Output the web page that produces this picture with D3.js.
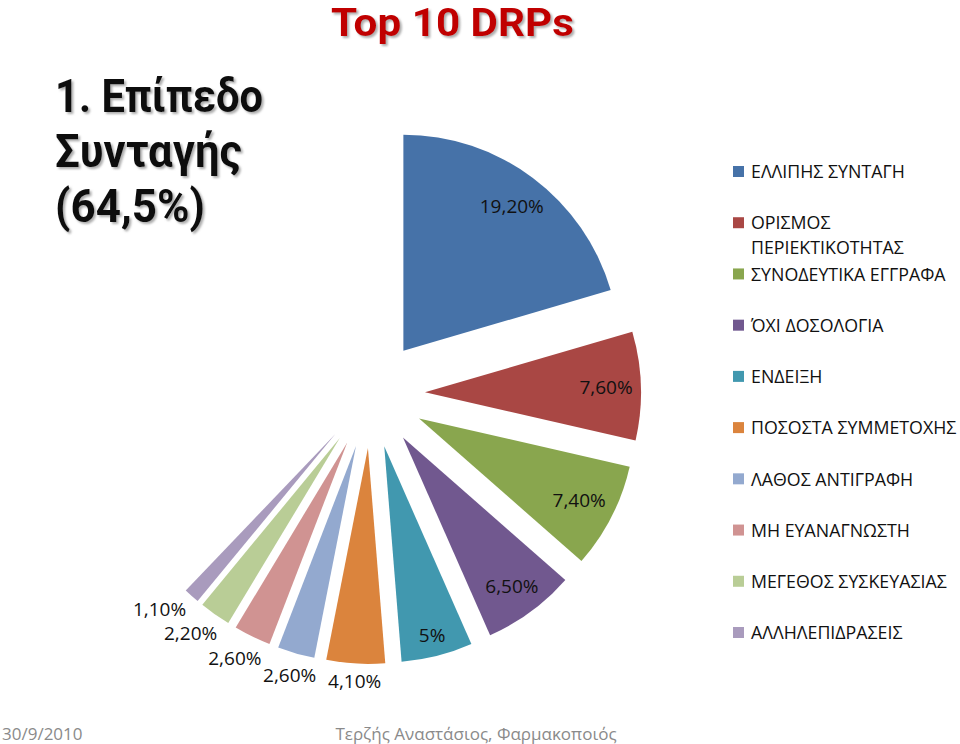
<!DOCTYPE html>
<html>
<head>
<meta charset="utf-8">
<script src="https://cdn.jsdelivr.net/npm/d3@7"></script>
<style>
  body { margin: 0; background: #fff; }
  text { font-family: "Open Sans", "Noto Sans", sans-serif; }
  text.head { font-family: Roboto, "Open Sans", sans-serif; font-weight: bold; }
</style>
</head>
<body>
<div id="chartDiv"></div>
<script>
const w = 960;
const h = 744;

// data
const categories = ["ΕΛΛΙΠΗΣ ΣΥΝΤΑΓΗ", "ΟΡΙΣΜΟΣ ΠΕΡΙΕΚΤΙΚΟΤΗΤΑΣ", "ΣΥΝΟΔΕΥΤΙΚΑ ΕΓΓΡΑΦΑ",
   "ΌΧΙ ΔΟΣΟΛΟΓΙΑ", "ΕΝΔΕΙΞΗ", "ΠΟΣΟΣΤΑ ΣΥΜΜΕΤΟΧΗΣ", "ΛΑΘΟΣ ΑΝΤΙΓΡΑΦΗ",
   "ΜΗ ΕΥΑΝΑΓΝΩΣΤΗ", "ΜΕΓΕΘΟΣ ΣΥΣΚΕΥΑΣΙΑΣ", "ΑΛΛΗΛΕΠΙΔΡΑΣΕΙΣ"];
const values = [19.2, 7.6, 7.4, 6.5, 5, 4.1, 2.6, 2.6, 2.2, 1.1];
const valueLabels = ["19,20%", "7,60%", "7,40%", "6,50%", "5%", "4,10%", "2,60%", "2,60%", "2,20%", "1,10%"];
// the part of the circle left empty (100% - 64,5%)
const hiddenRest = 35.5;
const colors = ["#4672a8", "#a94744", "#89a64e", "#71588f", "#4198af",
   "#db843d", "#93a9cf", "#d09392", "#b9cd96", "#a99bbd"];
const titleLines = ["1. Επίπεδο", "Συνταγής", "(64,5%)"];

const svg = d3.select("#chartDiv")
   .append("svg")
   .attr("width", w)
   .attr("height", h);

const defs = svg.append("defs");
defs.append("filter")
   .attr("id", "shadow")
   .attr("x", "-10%").attr("y", "-10%").attr("width", "120%").attr("height", "130%")
   .append("feDropShadow")
   .attr("dx", 2).attr("dy", 2).attr("stdDeviation", 1)
   .attr("flood-color", "#777").attr("flood-opacity", 0.6);

const cx = 371, cy = 394;
const r = 216;
const explode = 54;

const slices = values.map((v, i) => ({name: categories[i], v: v, label: valueLabels[i], color: colors[i]}));
const pie = d3.pie().sort(null).value(d => d.v);
const arcs = pie(slices.concat([{name: "rest", v: hiddenRest, hidden: true}]))
   .filter(d => !d.data.hidden);
const arc = d3.arc().innerRadius(0).outerRadius(r);

const mid = d => (d.startAngle + d.endAngle) / 2;
const apex = d => [cx + explode * Math.sin(mid(d)), cy - explode * Math.cos(mid(d))];

const pieG = svg.append("g");
pieG.selectAll("path")
   .data(arcs)
   .enter()
   .append("path")
   .attr("d", arc)
   .attr("fill", d => d.data.color)
   .attr("transform", d => `translate(${apex(d)[0]}, ${apex(d)[1]})`);

// data labels: inside end for the big ones, outside end for the rest
const labels = pieG.selectAll("text.lbl")
   .data(arcs)
   .enter()
   .append("text")
   .attr("class", "lbl")
   .attr("text-anchor", "middle")
   .attr("dy", "0.35em")
   .style("font-size", "19px")
   .attr("fill", "#111")
   .text(d => d.data.label);

const boxes = [];
labels.each(function(d) {
   const bw = this.getComputedTextLength();
   const bh = 20;
   let a = mid(d);
   const inside = d.data.v >= 5;
   const ext = ang => Math.abs(bw / 2 * Math.sin(ang)) + Math.abs(bh / 2 * Math.cos(ang));
   const p = apex(d);
   let x, y;
   const place = () => {
      const dist = inside ? r - ext(a) - 8 : r + ext(a) + 6;
      x = p[0] + dist * Math.sin(a);
      y = p[1] - dist * Math.cos(a);
   };
   place();
   if (!inside) {
      // nudge clockwise until it clears the previous label
      let guard = 0;
      const hit = () => boxes.some(b => Math.abs(b.x - x) < (b.w + bw) / 2 + 1 && Math.abs(b.y - y) < 24);
      while (hit() && guard < 80) { a += 0.005; place(); guard++; }
   }
   boxes.push({x: x, y: y, w: bw, h: bh});
   d3.select(this).attr("x", x).attr("y", y);
});

// legend
const legend = svg.append("g").attr("transform", "translate(733, 0)");
const legY = d3.scaleLinear().domain([0, 9]).range([172, 633]);
const item = legend.selectAll("g")
   .data(slices)
   .enter()
   .append("g")
   .attr("transform", (d, i) => `translate(0, ${legY(i)})`);
item.append("rect")
   .attr("x", 0).attr("y", -6)
   .attr("width", 11).attr("height", 11)
   .attr("fill", d => d.color);
item.append("text")
   .attr("x", 18)
   .attr("dy", "0.35em")
   .style("font-size", "17.8px")
   .attr("fill", "#111")
   .each(function(d) {
      const t = d3.select(this);
      const words = d.name.split(" ");
      let line = [];
      let tspan = t.append("tspan").attr("x", 18);
      words.forEach(wd => {
         line.push(wd);
         tspan.text(line.join(" "));
         if (tspan.node().getComputedTextLength() > 215 && line.length > 1) {
            line.pop();
            tspan.text(line.join(" "));
            line = [wd];
            tspan = t.append("tspan").attr("x", 18).attr("dy", "25px").text(wd);
         }
      });
   });

// titles with a soft shadow
const head = svg.append("g").attr("filter", "url(#shadow)");
head.append("text")
   .attr("class", "head")
   .attr("x", 331).attr("y", 36)
   .style("font-size", "38px")
   .attr("fill", "#c00000")
   .attr("textLength", 243).attr("lengthAdjust", "spacingAndGlyphs")
   .text("Top 10 DRPs");
head.selectAll("text.sub")
   .data(titleLines)
   .enter()
   .append("text")
   .attr("class", "head sub")
   .attr("x", 55)
   .attr("y", (d, i) => 112 + i * 55)
   .style("font-size", "46px")
   .attr("fill", "#111")
   .attr("textLength", (d, i) => [208, 187, 150][i])
   .attr("lengthAdjust", "spacingAndGlyphs")
   .text(d => d);

// footer
svg.append("text").attr("x", 2).attr("y", 740)
   .style("font-size", "17px").attr("fill", "#8a8a8a").text("30/9/2010");
svg.append("text").attr("x", 476).attr("y", 740).attr("text-anchor", "middle")
   .style("font-size", "17px").attr("fill", "#8a8a8a").text("Τερζής Αναστάσιος, Φαρμακοποιός");
</script>
</body>
</html>
